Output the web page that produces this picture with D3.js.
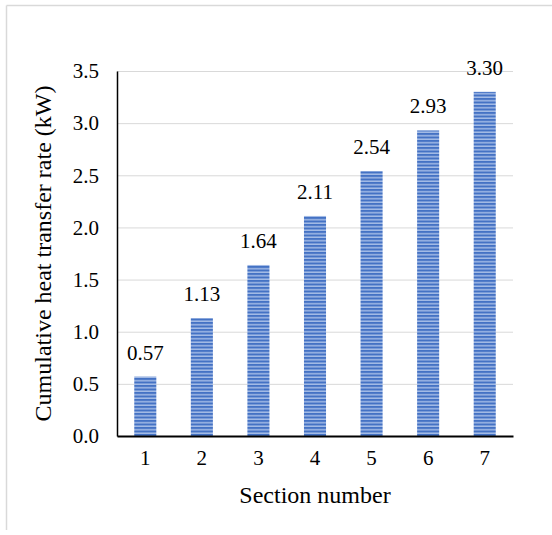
<!DOCTYPE html>
<html>
<head>
<meta charset="utf-8">
<script src="https://cdn.jsdelivr.net/npm/d3@7"></script>
<style>
  html, body { margin: 0; padding: 0; background: #fff; }
  svg { display: block; }
  text { font-family: "Liberation Serif", "Times New Roman", serif; fill: #000; }
</style>
</head>
<body>
<svg id="chart" width="552" height="535"></svg>
<script>
const categories = ["1", "2", "3", "4", "5", "6", "7"];
const values = [0.57, 1.13, 1.64, 2.11, 2.54, 2.93, 3.30];
const valueLabels = ["0.57", "1.13", "1.64", "2.11", "2.54", "2.93", "3.30"];
const yTicks = [0, 0.5, 1.0, 1.5, 2.0, 2.5, 3.0, 3.5];
const xTitle = "Section number";
const yTitle = "Cumulative heat transfer rate (kW)";

const svg = d3.select("#chart");
const m = { left: 117, right: 513, top: 71, bottom: 436 };

// chart area border (top and left visible)
svg.append("line").attr("x1", 6.5).attr("x2", 552).attr("y1", 5.5).attr("y2", 5.5)
  .attr("stroke", "#d9d9d9").attr("stroke-width", 1.5);
svg.append("line").attr("x1", 6.5).attr("x2", 6.5).attr("y1", 5.5).attr("y2", 530)
  .attr("stroke", "#d9d9d9").attr("stroke-width", 1.5);

const x = d3.scaleBand().domain(categories).range([m.left, m.right])
  .paddingInner(0.61).paddingOuter(0.305);
const y = d3.scaleLinear().domain([0, 3.5]).range([m.bottom, m.top]);

// stripe pattern
const defs = svg.append("defs");
const pat = defs.append("pattern").attr("id", "stripes")
  .attr("patternUnits", "userSpaceOnUse").attr("width", 8).attr("height", 3.5);
pat.append("rect").attr("width", 8).attr("height", 3.5).attr("fill", "#a4bbe6");
pat.append("rect").attr("width", 8).attr("height", 2).attr("fill", "#4472c4");

// gridlines
const grid = d3.axisLeft(y).tickValues(yTicks).tickSize(-(m.right - m.left)).tickFormat("");
const gg = svg.append("g").attr("transform", `translate(${m.left},0)`).call(grid);
gg.select(".domain").remove();
gg.selectAll("line").attr("stroke", "#d9d9d9").attr("stroke-width", 1);

// bars
svg.append("g").selectAll("rect").data(values).join("rect")
  .attr("x", (d, i) => x(categories[i]))
  .attr("width", x.bandwidth())
  .attr("y", d => y(d))
  .attr("height", d => y(0) - y(d))
  .attr("fill", "url(#stripes)");

// data labels
svg.append("g").selectAll("text").data(values).join("text")
  .attr("x", (d, i) => x(categories[i]) + x.bandwidth() / 2)
  .attr("y", d => y(d) - 17)
  .attr("text-anchor", "middle")
  .attr("font-size", 21)
  .text((d, i) => valueLabels[i]);

// y axis
const ya = d3.axisLeft(y).tickValues(yTicks).tickSize(0).tickPadding(18)
  .tickFormat(d3.format(".1f"));
const yg = svg.append("g").attr("transform", `translate(${m.left},0)`).call(ya);
yg.select(".domain").attr("stroke", "#000").attr("stroke-width", 1.5);
yg.selectAll("text").attr("font-size", 21).attr("font-family", "Liberation Serif");

// x axis
const xa = d3.axisBottom(x).tickSize(0).tickPadding(14);
const xg = svg.append("g").attr("transform", `translate(0,${m.bottom})`).call(xa);
xg.select(".domain").attr("stroke", "#000").attr("stroke-width", 2);
xg.selectAll("text").attr("font-size", 21).attr("font-family", "Liberation Serif");

// titles
svg.append("text").attr("x", (m.left + m.right) / 2).attr("y", 503)
  .attr("text-anchor", "middle").attr("font-size", 24).text(xTitle);
svg.append("text")
  .attr("transform", `translate(51,${(m.top + m.bottom) / 2}) rotate(-90)`)
  .attr("text-anchor", "middle").attr("font-size", 24).text(yTitle);
</script>
</body>
</html>
